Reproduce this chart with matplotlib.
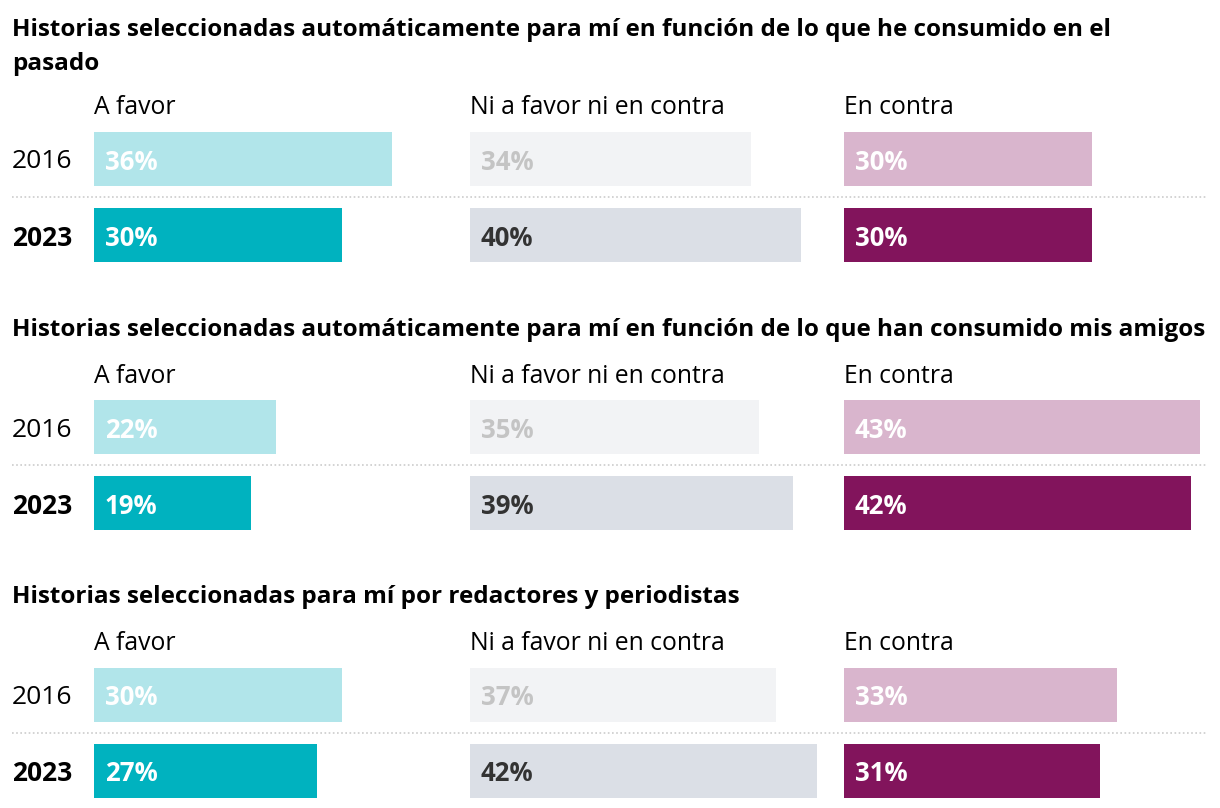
import matplotlib.pyplot as plt

plt.rcParams['font.family'] = ['Open Sans', 'DejaVu Sans']

titles = [
    'Historias seleccionadas automáticamente para mí en función de lo que he consumido en el\npasado',
    'Historias seleccionadas automáticamente para mí en función de lo que han consumido mis amigos',
    'Historias seleccionadas para mí por redactores y periodistas',
]
columns = ['A favor', 'Ni a favor ni en contra', 'En contra']
years = ['2016', '2023']

# values[section][year] -> [a favor, ni/ni, en contra]
values = [
    [[36, 34, 30], [30, 40, 30]],
    [[22, 35, 43], [19, 39, 42]],
    [[30, 37, 33], [27, 42, 31]],
]

bar_colors = [['#b1e5ea', '#f2f3f5', '#d9b5cd'],
              ['#00b2bf', '#dbdfe6', '#82145c']]
label_colors = [['white', '#c4c4c4', 'white'],
                ['white', '#333333', 'white']]

W, H = 1220, 808
fig = plt.figure(figsize=(W / 100, H / 100), dpi=100)

px_per_unit = 8.27
x0 = 94
col_offsets = [(x - x0) / px_per_unit for x in (94, 470, 844)]
xmax = (W - x0) / px_per_unit

title_y = [47, 330, 597]
header_y = [104, 373, 641]

for s in range(3):
    top = 121 + 268 * s
    ax = fig.add_axes([x0 / W, 1 - (top + 152) / H, 1 - x0 / W, 152 / H])
    ax.set_xlim(0, xmax)
    ax.set_ylim(1.5, -0.5)
    ax.axis('off')
    for r in range(2):
        for c in range(3):
            v = values[s][r][c]
            ax.barh(r, v, left=col_offsets[c], height=54 / 76,
                    color=bar_colors[r][c], linewidth=0)
            ax.text(col_offsets[c] + 1.3, r, f'{v}%', va='center_baseline', ha='left',
                    fontsize=18.5, fontweight='bold', color=label_colors[r][c])
        ax.text((12 - x0) / px_per_unit, r, years[r], va='center_baseline', ha='left',
                fontsize=19, fontweight='bold' if r == 1 else 'normal',
                color='black', clip_on=False)
    ax.plot([(12 - x0) / px_per_unit, (1207 - x0) / px_per_unit], [0.5, 0.5],
            color='#cccccc', linestyle=(0, (1, 1.5)), linewidth=1.2, clip_on=False)

    fig.text(12 / W, 1 - title_y[s] / H, titles[s], fontsize=17.5, fontweight='bold',
             va='center', ha='left', linespacing=1.5)
    for c in range(3):
        fig.text((x0 + col_offsets[c] * px_per_unit) / W, 1 - header_y[s] / H, columns[c],
                 fontsize=17.8, va='center_baseline', ha='left')

fig.savefig('out.png', dpi=100)
